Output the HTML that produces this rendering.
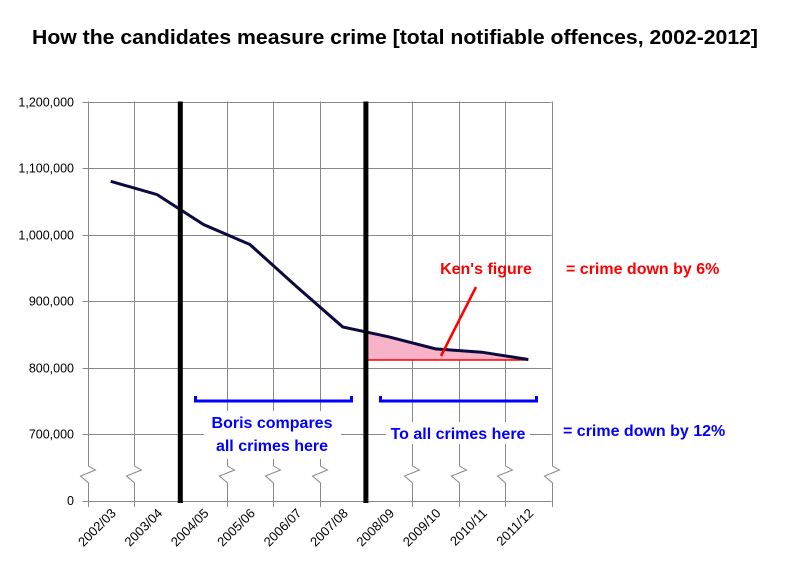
<!DOCTYPE html>
<html><head><meta charset="utf-8"><style>
body{margin:0;background:#fff;}
svg{display:block;font-family:"Liberation Sans",sans-serif;}
</style></head><body>
<svg id="chart" width="788" height="578" viewBox="0 0 788 578">
<text x="395" y="44" text-anchor="middle" font-size="20" font-weight="bold" fill="#000" textLength="726" lengthAdjust="spacingAndGlyphs">How the candidates measure crime [total notifiable offences, 2002-2012]</text>
<g id="grid"></g>
<g id="fillg"></g>
<g id="lineg"></g>
<g id="ann"></g>
</svg>
<script>
const categories=["2002/03","2003/04","2004/05","2005/06","2006/07","2007/08","2008/09","2009/10","2010/11","2011/12"];
const offences=[1080000,1060000,1015000,985000,922000,861000,846000,828000,823000,812000];
const yTicks=[700000,800000,900000,1000000,1100000,1200000];
const yTickLabels=["700,000","800,000","900,000","1,000,000","1,100,000","1,200,000"];
const NS="http://www.w3.org/2000/svg";
const X0=87.5,X1=551.5,Y0=501;
const bw=(X1-X0)/categories.length;
function xB(i){return X0+bw*i;}
function xC(i){return X0+bw*(i+0.5);}
function y(v){return 434-(v-700000)*(66.5/100000);}
function mk(p,t,a,name){const e=document.createElementNS(NS,t);for(const k in a)e.setAttribute(k,a[k]);


p.appendChild(e);return e;}
const grid=document.getElementById('grid');
yTicks.forEach((v,i)=>{const yy=Math.round(y(v))+0.5;
mk(grid,'line',{x1:X0-5,x2:X1,y1:yy,y2:yy,stroke:'#888','stroke-width':1},'y-gridline');
const t=mk(grid,'text',{x:74,y:yy+4,'text-anchor':'end','font-size':12.5,fill:'#000'},'y-tick-label');t.textContent=yTickLabels[i];});
mk(grid,'line',{x1:X0-5,x2:X1,y1:Y0+0.5,y2:Y0+0.5,stroke:'#888','stroke-width':1},'x-axis');
const z=mk(grid,'text',{x:74,y:Y0+4,'text-anchor':'end','font-size':12.5,fill:'#000'},'y-tick-label');z.textContent="0";
for(let i=0;i<=categories.length;i++){const x=Math.round(xB(i))+0.5;
if(i===2||i===6)continue;
mk(grid,'polyline',{points:`${x},${y(1200000)} ${x},466 ${x+7},470 ${x-8},476 ${x},483 ${x},${Y0+6}`,fill:'none',stroke:'#888','stroke-width':1},'x-gridline-with-break');}
categories.forEach((c,i)=>{const x=xC(i)+6,yy=514;
const t=mk(grid,'text',{x:x,y:yy,'text-anchor':'end','font-size':13,fill:'#000',transform:`rotate(-45 ${x} ${yy})`},'x-tick-label');t.textContent=c;});
const fg=document.getElementById('fillg');
const s=6,last=offences.length-1;
const xs=xB(s);const frac=(xs-xC(s-1))/bw;const vs=offences[s-1]+(offences[s]-offences[s-1])*frac;
let pts=`${xs},${y(offences[last])} ${xs},${y(vs)}`;
for(let i=s;i<=last;i++)pts+=` ${xC(i)},${y(offences[i])}`;
mk(fg,'polygon',{points:pts,fill:'#f9b3c8'},'ken-difference-area');
mk(fg,'line',{x1:xs,x2:xC(last),y1:y(offences[last])+0.5,y2:y(offences[last])+0.5,stroke:'#f00','stroke-width':1.5},'ken-baseline');
const lg=document.getElementById('lineg');
mk(lg,'polyline',{points:offences.map((v,i)=>`${xC(i)},${y(v)}`).join(' '),fill:'none',stroke:'#0a0a40','stroke-width':3},'offences-line');
[2,6].forEach(i=>mk(lg,'line',{x1:xB(i),x2:xB(i),y1:y(1200000),y2:Y0+2,stroke:'#000','stroke-width':5},'comparison-divider'));
const an=document.getElementById('ann');
function bracket(a,b,name){mk(an,'polyline',{points:`${a},396 ${a},401 ${b},401 ${b},396`,fill:'none',stroke:'#00f','stroke-width':3},name);}
bracket(195.5,351.5,'boris-bracket');bracket(380.5,536.5,'all-crimes-bracket');
mk(an,'rect',{x:204,y:411,width:137,height:48,fill:'#fff'},'boris-label-bg');
mk(an,'rect',{x:386,y:422,width:144,height:22,fill:'#fff'},'all-crimes-label-bg');
function txt(x,yy,s,col,name,anchor){const t=mk(an,'text',{x:x,y:yy,'text-anchor':anchor||'middle','font-size':16,'font-weight':'bold',fill:col},name);t.textContent=s;}
txt(272,428,"Boris compares","#00f",'boris-label-line1');
txt(272,451,"all crimes here","#00f",'boris-label-line2');
txt(458,439,"To all crimes here","#00f",'all-crimes-label');
txt(563,436,"= crime down by 12%","#00f",'crime-down-12-label','start');
txt(486,274,"Ken's figure","#f00",'ken-label');
txt(566,274,"= crime down by 6%","#f00",'crime-down-6-label','start');
mk(an,'line',{x1:476,y1:287,x2:441,y2:356,stroke:'#f00','stroke-width':2.5},'ken-pointer');
</script>
</body></html>
